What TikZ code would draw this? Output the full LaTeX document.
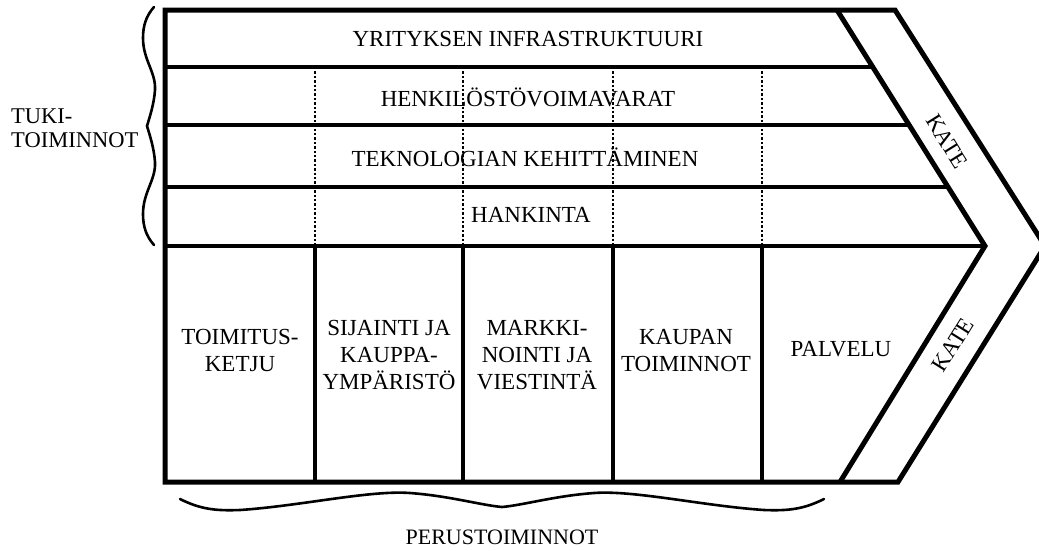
\documentclass[tikz,border=0pt]{standalone}
\usepackage{fontspec}
\setmainfont{Liberation Serif}
\tikzset{
  frame/.style={line width=5pt, line join=miter},
  rowline/.style={line width=3.2pt},
  colline/.style={line width=3.2pt},
  dotline/.style={line width=2.8pt, dash pattern=on 2.4pt off 2pt},
  bracepath/.style={line width=2.6pt, line cap=round},
  lbl/.style={inner sep=0pt, align=center, font=\fontsize{23}{27}\selectfont},
  katelbl/.style={inner sep=0pt, font=\fontsize{23}{25}\selectfont},
}
\begin{document}
\begin{tikzpicture}[x=1pt, y=-1pt]
\useasboundingbox (0,0) rectangle (1039,550);
\clip (0,0) rectangle (1039,550);

% key corner points
\coordinate (tl) at (165,10);
\coordinate (bl) at (165,482);
\coordinate (itop) at (837,10);
\coordinate (itip) at (985,246);
\coordinate (ibot) at (840,482);
\coordinate (otop) at (895,10);
\coordinate (otip) at (1045,246);
\coordinate (obot) at (898,482);

% row boundaries of the support activities, ending on the inner diagonal
\foreach \y/\n in {67/r1, 125/r2, 187/r3, 246/r4} {
  \coordinate (\n L) at (165,\y);
  \coordinate (\n R) at ({837+(\y-10)/236*148},\y);
  \draw[rowline] (\n L) -- (\n R);
}

% column boundaries: dotted through support rows, solid through primary row
\foreach \x/\n in {315/c1, 463/c2, 613/c3, 762/c4} {
  \coordinate (\n a) at (\x,67);
  \coordinate (\n b) at (\x,246);
  \coordinate (\n c) at (\x,482);
  \draw[dotline] (\n a) -- (\n b);
  \draw[colline] (\n b) -- (\n c);
}

% inner margin chevron
\draw[frame] (itop) -- (itip) -- (ibot);
% outer frame with the arrow head
\draw[frame] (tl) -- (otop) -- (otip) -- (obot) -- (bl) -- cycle;

% support activities
\node[lbl] (infra) at (528,39) {YRITYKSEN INFRASTRUKTUURI};
\node[lbl] (hr) at (528,97) {HENKILÖSTÖVOIMAVARAT};
\node[lbl] (tech) at (525,157) {TEKNOLOGIAN KEHITTÄMINEN};
\node[lbl] (proc) at (531,215) {HANKINTA};

% primary activities
\node[lbl] (p1) at (240,350) {TOIMITUS-\\KETJU};
\node[lbl] (p2) at (389,355) {SIJAINTI JA\\KAUPPA-\\YMPÄRISTÖ};
\node[lbl] (p3) at (537,355) {MARKKI-\\NOINTI JA\\VIESTINTÄ};
\node[lbl] (p4) at (686,351) {KAUPAN\\TOIMINNOT};
\node[lbl] (p5) at (841,349) {PALVELU};

% margin labels
\node[katelbl, rotate=-58] (kate1) at (947,141) {KATE};
\node[katelbl, rotate=58] (kate2) at (953,345) {KATE};

% group braces and their labels
\draw[bracepath] (154,7) .. controls (146,16) and (143,26) .. (143,38)
  .. controls (143,60) and (156,72) .. (155,90)
  .. controls (154,104) and (150,116) .. (147,126)
  .. controls (150,136) and (154,148) .. (155,162)
  .. controls (156,180) and (143,192) .. (143,214)
  .. controls (143,226) and (146,236) .. (154,245);
\node[lbl, align=left, anchor=west, font=\fontsize{22.5}{24}\selectfont] (support) at (11,128) {TUKI-\\TOIMINNOT};

\draw[bracepath] (180,499) .. controls (200,509) and (215,511) .. (240,510)
  .. controls (300,506) and (370,490) .. (410,493)
  .. controls (450,496) and (480,505) .. (502,507)
  .. controls (524,505) and (554,496) .. (594,493)
  .. controls (634,490) and (704,506) .. (764,510)
  .. controls (789,511) and (804,509) .. (824,499);
\node[lbl, font=\fontsize{22}{26}\selectfont] (primary) at (502,537) {PERUSTOIMINNOT};
\end{tikzpicture}
\end{document}
